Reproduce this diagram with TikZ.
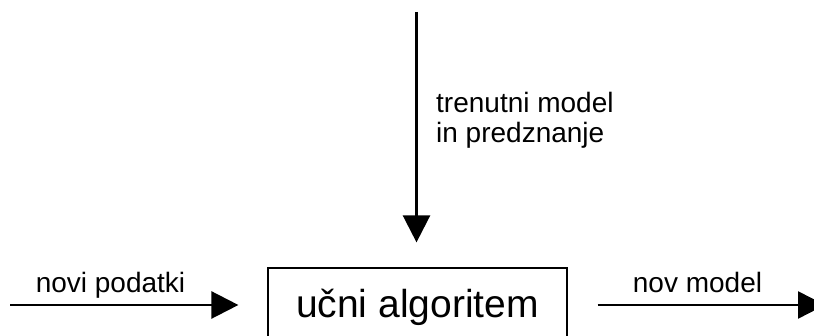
\documentclass[tikz,border=0pt]{standalone}
\usepackage{fontspec}
\setmainfont{Liberation Sans}
\usetikzlibrary{arrows.meta,positioning}
\tikzset{
    flow arrow/.style={line width=2.5pt, -{Triangle[length=27pt, width=27pt]}},
    algo box/.style={draw, line width=1.2pt, rectangle, minimum width=299pt, minimum height=80pt,
        font=\fontsize{39}{44}\selectfont, text height=28pt, text depth=8pt},
    flow label/.style={font=\fontsize{28}{30}\selectfont, inner sep=0pt}
}

\begin{document}
\begin{tikzpicture}[x=1pt, y=1pt]
	\clip (0,0) rectangle (814,336);
	\useasboundingbox (0,0) rectangle (814,336);
		\node[algo box] (alg) at (417.5,28) {učni algoritem};
		\coordinate (inL) at (10,31);
		\coordinate (outR) at (825,31);
		\coordinate (topIn) at (416.5,324);
		% arrows into and out of the algorithm
		\draw[flow arrow, shorten >=29pt] (inL) -- (inL -| alg.west);
		\draw[flow arrow, shorten <=30pt] (alg.east |- outR) -- (outR);
		\draw[flow arrow, shorten >=25pt] (topIn) -- (topIn |- alg.north);
		\node[flow label, anchor=base] (novi) at (110.5,43) {novi podatki};
		\node[flow label, anchor=base] (nov) at (697.5,43) {nov model};
		\node[flow label, anchor=base west, align=left] (pred) at (436,193) {trenutni model\\in predznanje};
	\end{tikzpicture}
\end{document}
